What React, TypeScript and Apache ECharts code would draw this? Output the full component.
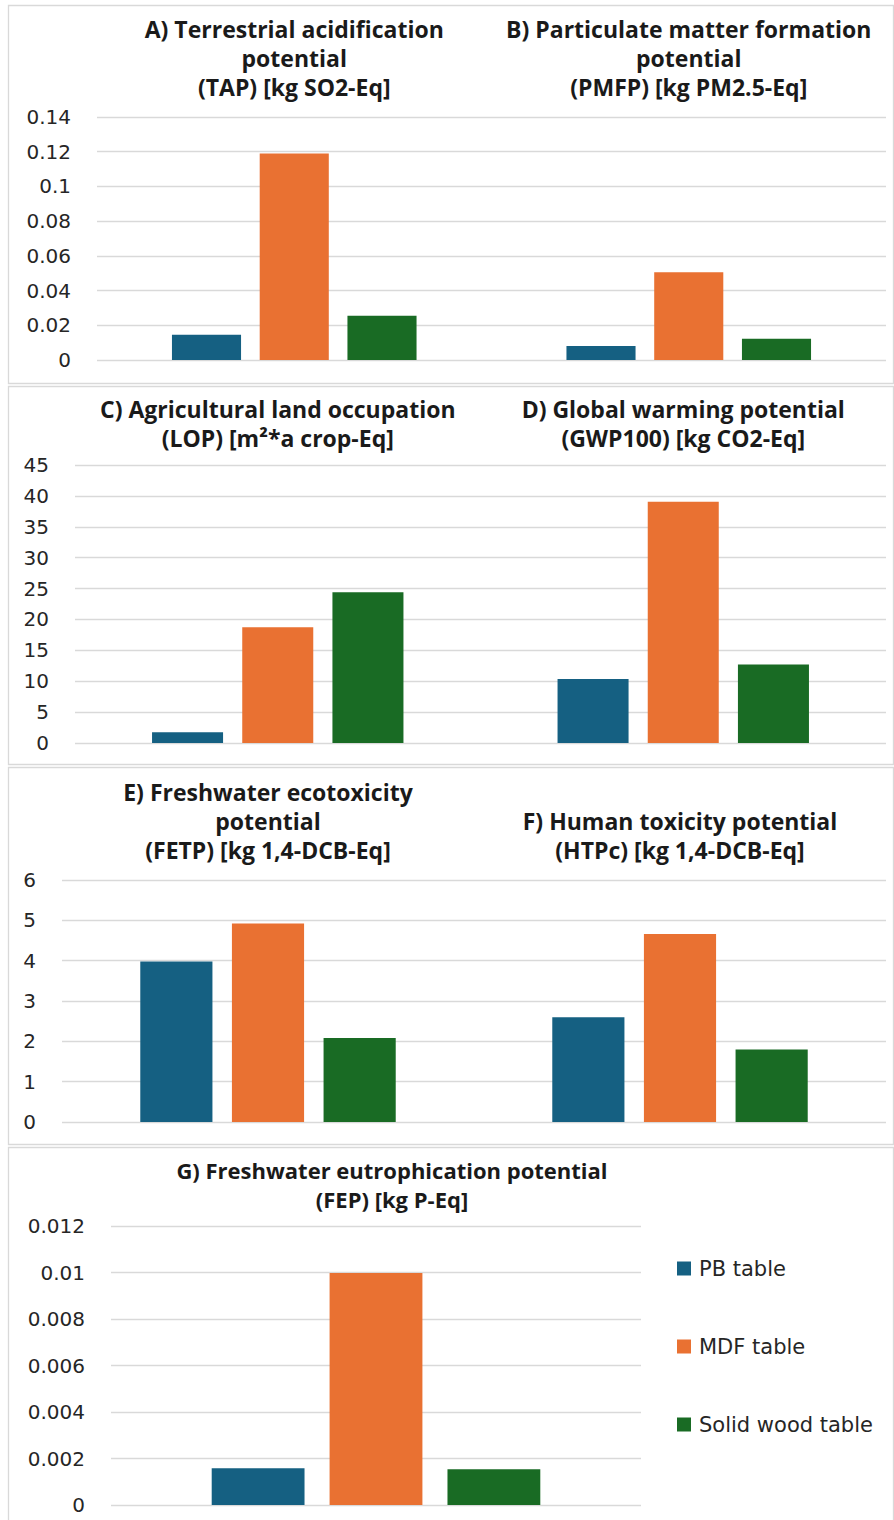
import React, { useEffect, useRef } from 'react';
import * as echarts from 'echarts';

const seriesNames = ['PB table', 'MDF table', 'Solid wood table'];
const colors = ['#156082', '#E97132', '#196B24'];

const categoriesAB = [
  'A) Terrestrial acidification\npotential\n(TAP) [kg SO2-Eq]',
  'B) Particulate matter formation\npotential\n(PMFP) [kg PM2.5-Eq]',
];
const pbAB = [0.0146, 0.0081];
const mdfAB = [0.119, 0.0505];
const solidAB = [0.0255, 0.0123];

const categoriesCD = [
  'C) Agricultural land occupation\n(LOP) [m²*a crop-Eq]',
  'D) Global warming potential\n(GWP100) [kg CO2-Eq]',
];
const pbCD = [1.75, 10.37];
const mdfCD = [18.75, 39.05];
const solidCD = [24.4, 12.7];

const categoriesEF = [
  'E) Freshwater ecotoxicity\npotential\n(FETP) [kg 1,4-DCB-Eq]',
  'F) Human toxicity potential\n(HTPc) [kg 1,4-DCB-Eq]',
];
const pbEF = [3.98, 2.6];
const mdfEF = [4.92, 4.66];
const solidEF = [2.08, 1.8];

const categoriesG = ['G) Freshwater eutrophication potential\n(FEP) [kg P-Eq]'];
const pbG = [0.00158];
const mdfG = [0.00998];
const solidG = [0.00154];

const axisMax = [0.14, 45, 6, 0.012];
const axisInterval = [0.02, 5, 1, 0.002];

export default function App() {
  const ref = useRef<HTMLDivElement>(null);

  useEffect(() => {
    if (!ref.current) return;
    const chart = echarts.init(ref.current, undefined, { renderer: 'svg' });

    const panels = [
      { cats: categoriesAB, data: [pbAB, mdfAB, solidAB] },
      { cats: categoriesCD, data: [pbCD, mdfCD, solidCD] },
      { cats: categoriesEF, data: [pbEF, mdfEF, solidEF] },
      { cats: categoriesG, data: [pbG, mdfG, solidG] },
    ];
    const grids = [
      { left: 97, width: 789, top: 117, height: 243 },
      { left: 75, width: 811, top: 465, height: 278 },
      { left: 62, width: 824, top: 880, height: 242 },
      { left: 111, width: 530, top: 1226, height: 279 },
    ];
    const titleMargins = [16, 13, 16, 0];
    const boxes = [
      [8, 5, 885, 378],
      [8, 386, 885, 378],
      [8, 767, 885, 377],
      [8, 1147, 885, 380],
    ];

    const labelFont = 'DejaVu Sans';
    const titleFont = 'Open Sans';

    const xAxis = panels.map((p, i) => ({
      type: 'category',
      gridIndex: i,
      position: 'top',
      data: p.cats,
      axisLine: { show: false },
      axisTick: { show: false },
      axisLabel: {
        show: i < 3,
        interval: 0,
        margin: titleMargins[i],
        fontFamily: titleFont,
        fontWeight: 'bold',
        fontSize: 23,
        lineHeight: 29,
        color: '#1a1a1a',
        align: 'center',
      },
    }));

    const yAxis = panels.map((p, i) => ({
      type: 'value',
      gridIndex: i,
      min: 0,
      max: axisMax[i],
      interval: axisInterval[i],
      axisLine: { show: false },
      axisTick: { show: false },
      splitLine: { lineStyle: { color: '#d9d9d9', width: 1.3 } },
      axisLabel: {
        margin: 26,
        fontFamily: labelFont,
        fontSize: 20,
        color: '#262626',
      },
    }));

    const series: any[] = [];
    panels.forEach((p, i) => {
      p.data.forEach((vals, s) => {
        series.push({
          type: 'bar',
          name: seriesNames[s],
          xAxisIndex: i,
          yAxisIndex: i,
          data: vals,
          barCategoryGap: '38%',
          barGap: '27%',
          itemStyle: { color: colors[s] },
        });
      });
    });

    const graphic: any[] = boxes.map((b) => ({
      type: 'rect',
      shape: { x: b[0] + 0.5, y: b[1] + 0.5, width: b[2], height: b[3] },
      style: { fill: 'none', stroke: '#d9d9d9', lineWidth: 1.3 },
      silent: true,
    }));
    graphic.push({
      type: 'text',
      x: 392,
      y: 1155,
      style: {
        text: categoriesG[0],
        textAlign: 'center',
        fontFamily: titleFont,
        fontWeight: 'bold',
        fontSize: 22,
        lineHeight: 29,
        fill: '#1a1a1a',
      },
    });

    chart.setOption({
      animation: false,
      backgroundColor: '#ffffff',
      color: colors,
      grid: grids.map((g) => ({ ...g, containLabel: false })),
      xAxis,
      yAxis,
      series,
      legend: {
        data: seriesNames,
        orient: 'vertical',
        left: 672,
        top: 1253,
        itemWidth: 14,
        itemHeight: 14,
        itemGap: 57,
        icon: 'rect',
        textStyle: {
          fontFamily: labelFont,
          fontSize: 21,
          lineHeight: 20,
          color: '#262626',
          padding: [0, 0, 0, 3],
        },
      },
      graphic,
    });

    return () => chart.dispose();
  }, []);

  return (
    <div
      ref={ref}
      style={{ position: 'absolute', left: 0, top: 0, width: 894, height: 1520, background: '#fff' }}
    />
  );
}
